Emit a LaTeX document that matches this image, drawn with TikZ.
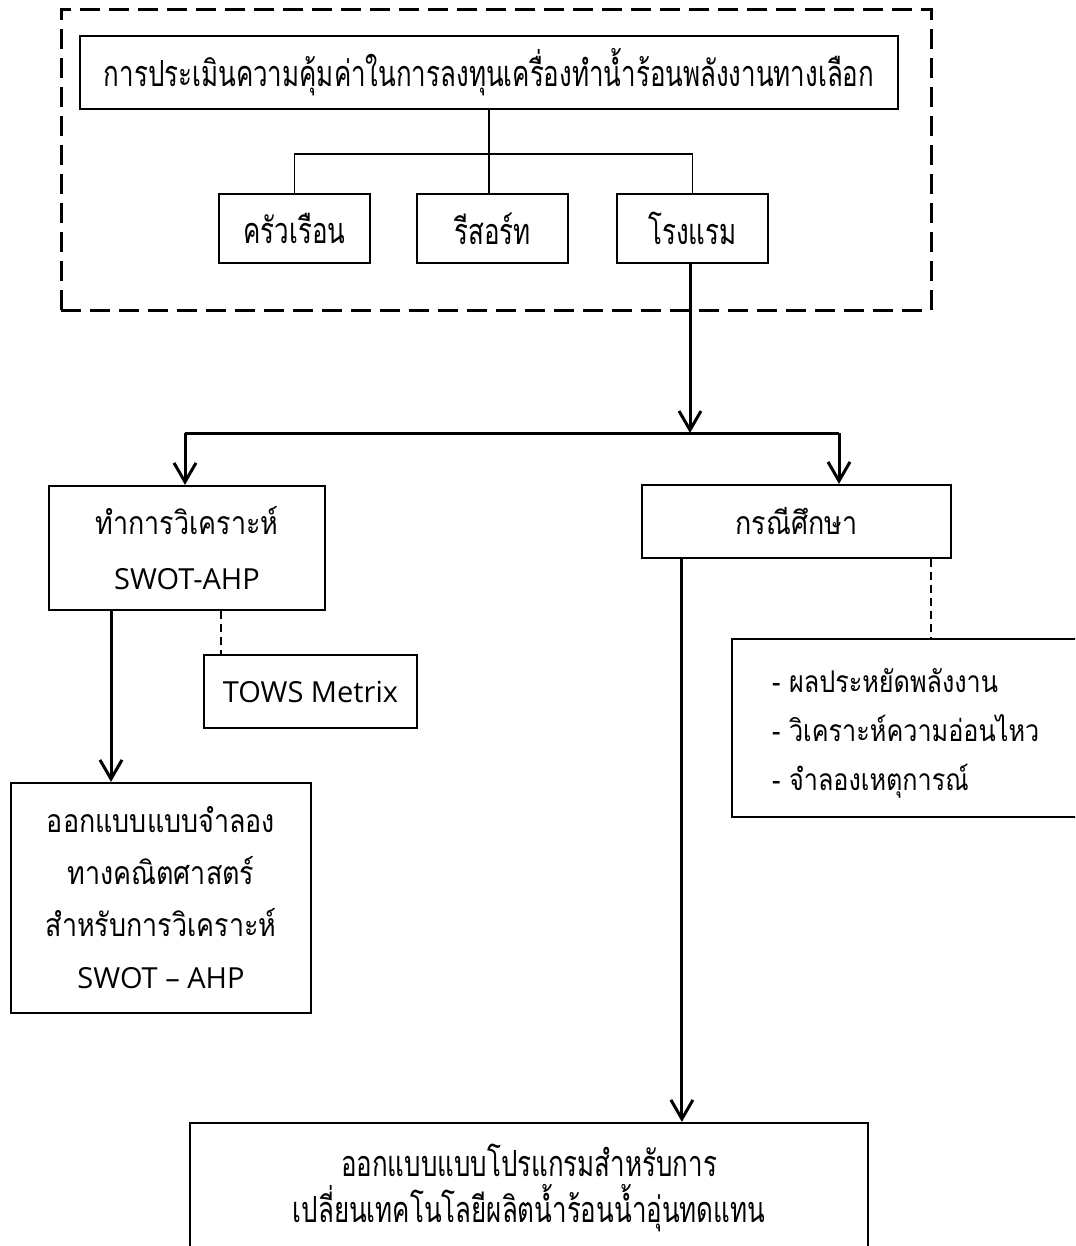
\documentclass[tikz,border=0pt]{standalone}
\usepackage{fontspec}
\usetikzlibrary{arrows.meta,calc}
\newfontfamily\thaiwide[Script=Thai,FakeStretch=0.84]{Loma}
\newfontfamily\thainarrow[Script=Thai,FakeStretch=0.72]{Loma}
\newfontfamily\latinsans{Open Sans}
\newcommand\latword[1]{{\latinsans\fontsize{29}{55}\selectfont #1}}

\begin{document}
\begin{tikzpicture}[x=1pt,y=-1pt,
  box/.style={draw, line width=2.2pt, inner sep=0pt, align=center},
  widefont/.style={font={\thaiwide\fontsize{32}{55}\selectfont}},
  narrowfont/.style={font={\thainarrow\fontsize{36}{46}\selectfont}},
  thinline/.style={line width=1.3pt},
  flow/.style={line width=3pt, -{Straight Barb[length=19pt,width=22pt]}},
  link/.style={line width=2.5pt, dash pattern=on 8pt off 5pt},
  groupframe/.style={draw, line width=3pt, dash pattern=on 20pt off 9pt, inner sep=0pt}]

\useasboundingbox (0,0) rectangle (1075,1246);
\fill[white] (0,0) rectangle (1075,1246);
\clip (0,0) rectangle (1075,1246);

% dashed group around the study scope
\node[groupframe, minimum width=870pt, minimum height=300pt] (group) at (496,160) {};

% top level and the three target groups
\node[box, narrowfont, minimum width=818pt, minimum height=73pt] (title) at (489,72.5)
  {การประเมินความคุ้มค่าในการลงทุนเครื่องทำน้ำร้อนพลังงานทางเลือก};
\node[box, narrowfont, minimum width=151pt, minimum height=69pt] (house) at (294.5,228.5) {ครัวเรือน};
\node[box, narrowfont, minimum width=151pt, minimum height=69pt] (resort) at (492.5,228.5) {รีสอร์ท};
\node[box, narrowfont, minimum width=151pt, minimum height=69pt] (hotel) at (692.5,228.5) {โรงแรม};

% analysis branch
\node[box, widefont, minimum width=276pt, minimum height=124pt] (swot) at (187,548)
  {ทำการวิเคราะห์\\\latword{SWOT-AHP}};
\node[box, minimum width=213pt, minimum height=73pt, font={\latinsans\fontsize{29}{35}\selectfont}] (tows) at (310.5,691.5)
  {TOWS Metrix};
\node[box, minimum width=300pt, minimum height=230pt, font={\thaiwide\fontsize{32}{52}\selectfont}] (model) at (161,898)
  {ออกแบบแบบจำลอง\\ทางคณิตศาสตร์\\สำหรับการวิเคราะห์\\\latword{SWOT – AHP}};

% case study branch
\node[box, widefont, minimum width=309pt, minimum height=73pt] (case) at (796.5,521.5) {กรณีศึกษา};
\node[box, minimum width=380pt, minimum height=178pt] (results) at (922,728) {};
\node[anchor=west, align=left, inner sep=0pt, font={\thaiwide\fontsize{30}{49}\selectfont}] (resultslist) at (772,733)
  {-~ผลประหยัดพลังงาน\\-~วิเคราะห์ความอ่อนไหว\\-~จำลองเหตุการณ์};

% final outcome
\node[box, narrowfont, minimum width=678pt, minimum height=130pt] (program) at (529,1188)
  {ออกแบบแบบโปรแกรมสำหรับการ\\เปลี่ยนเทคโนโลยีผลิตน้ำร้อนน้ำอุ่นทดแทน};

% tree inside the dashed group
\coordinate (bar) at (0,154);
\draw[thinline] (title.south) -- (title.south |- resort.north);
\draw[thinline] (house.north) -- (house.north |- bar) -- (hotel.north |- bar) -- (hotel.north);

% split into the two branches
\coordinate (split) at (690,433);
\coordinate (splitL) at (185,433);
\coordinate (splitR) at (839,433);
\draw[flow] (hotel.south -| split) -- (split);
\draw[line width=3pt] (splitL) -- (splitR);
\draw[flow] (splitL) -- (splitL |- swot.north);
\draw[flow] (splitR) -- (splitR |- case.north);

% analysis branch connectors
\draw[link] ([xshift=18pt]tows.north west |- swot.south) -- ([xshift=18pt]tows.north west);
\draw[flow] ([xshift=-50pt]model.north |- swot.south) -- ([xshift=-50pt]model.north);

% case study connectors
\draw[link] ([xshift=-21pt]case.south east) -- ([xshift=-21pt]case.south east |- results.north);
\draw[flow] ([xshift=41pt]case.south west) -- ([xshift=41pt]case.south west |- program.north);
\end{tikzpicture}
\end{document}
